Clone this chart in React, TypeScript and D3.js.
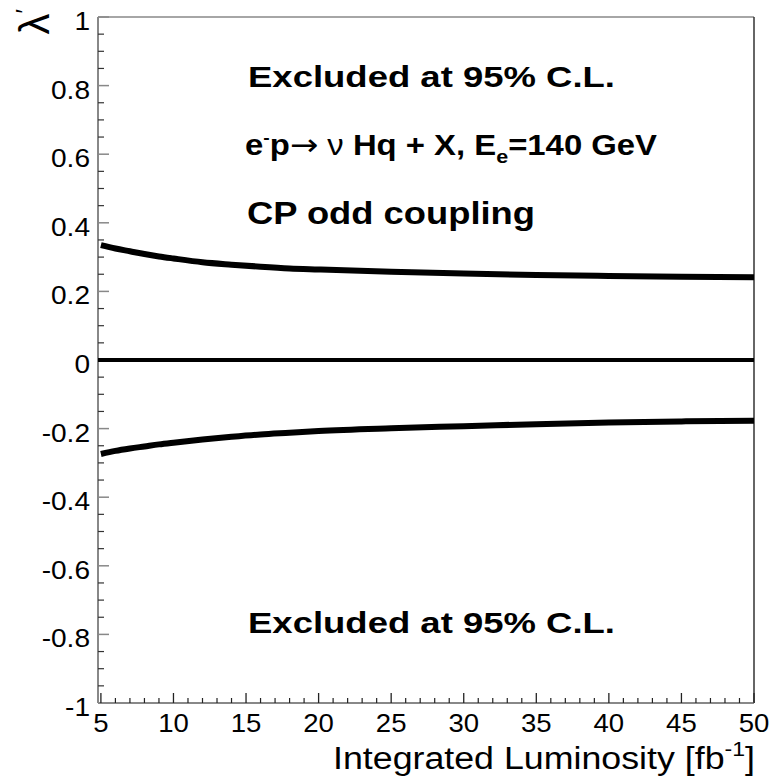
import React from 'react';
import * as d3 from 'd3';

// ---- data ----
const lumi = [5, 6, 7, 8, 9, 10, 12, 14, 16, 18, 20, 25, 30, 35, 40, 45, 50];
const upperLimit = [0.335, 0.325, 0.317, 0.309, 0.302, 0.296, 0.285, 0.278, 0.272, 0.267, 0.264, 0.257, 0.252, 0.248, 0.245, 0.243, 0.241];
const lowerLimit = [-0.274, -0.265, -0.258, -0.252, -0.246, -0.241, -0.232, -0.224, -0.217, -0.212, -0.207, -0.199, -0.193, -0.187, -0.182, -0.179, -0.177];
const zeroLumi = [4.8, 50];
const zeroVals = [0, 0];
const xTicks = [5, 10, 15, 20, 25, 30, 35, 40, 45, 50];
const xTickLabels = ['5', '10', '15', '20', '25', '30', '35', '40', '45', '50'];
const yTicks = [1, 0.8, 0.6, 0.4, 0.2, 0, -0.2, -0.4, -0.6, -0.8, -1];
const yTickLabels = ['1', '0.8', '0.6', '0.4', '0.2', '0', '-0.2', '-0.4', '-0.6', '-0.8', '-1'];
const xDomain = [4.8, 50];
const yDomain = [-1, 1];

const W = 774;
const H = 778;
const FONT = '"Liberation Sans", Arial, Helvetica, sans-serif';

export default function App() {
  const x = d3.scaleLinear().domain(xDomain).range([98, 754]);
  const y = d3.scaleLinear().domain(yDomain).range([703, 17]);

  const line = d3
    .line<[number, number]>()
    .x((d) => x(d[0]))
    .y((d) => y(d[1]))
    .curve(d3.curveMonotoneX);

  const upPts = lumi.map((l, i) => [l, upperLimit[i]] as [number, number]);
  const loPts = lumi.map((l, i) => [l, lowerLimit[i]] as [number, number]);
  const zPts = zeroLumi.map((l, i) => [l, zeroVals[i]] as [number, number]);

  const xMinor = d3.range(5, 50.001, 1).filter((v) => !xTicks.includes(v));
  const yMinor = d3.range(-1, 1.0001, 0.05).map((v) => +v.toFixed(2)).filter((v) => !yTicks.some((t) => Math.abs(t - v) < 1e-6));

  const [x0, x1] = x.range();
  const [y0, y1] = y.range();

  return (
    <svg width={W} height={H} style={{ position: 'absolute', left: 0, top: 0, background: '#fff' }} fontFamily={FONT}>
      <rect x={0} y={0} width={W} height={H} fill="#fff" />

      {/* frame */}
      <line x1={x0} y1={y1} x2={x1} y2={y1} stroke="#888" strokeWidth={1.5} />
      <line x1={x1} y1={y1} x2={x1} y2={y0} stroke="#333" strokeWidth={1.5} />
      <line x1={x0} y1={y1} x2={x0} y2={y0} stroke="#888" strokeWidth={2} />
      <line x1={x0} y1={y0} x2={x1} y2={y0} stroke="#888" strokeWidth={2} />

      {/* y ticks */}
      {yTicks.map((t) => (
        <line key={'ym' + t} x1={x0} x2={x0 + 11} y1={y(t)} y2={y(t)} stroke="#888" strokeWidth={1.5} />
      ))}
      {yMinor.map((t) => (
        <line key={'yn' + t} x1={x0} x2={x0 + 6} y1={y(t)} y2={y(t)} stroke="#333" strokeWidth={1.2} />
      ))}
      {yTicks.map((t, i) => (
        <g key={'yl' + t} transform={`translate(90,${y(t) + 13}) scale(1.08,1)`}>
          <text textAnchor="end" fontSize={26} fill="#000">
            {yTickLabels[i]}
          </text>
        </g>
      ))}

      {/* x ticks */}
      {xTicks.map((t) => (
        <line key={'xm' + t} x1={x(t)} x2={x(t)} y1={y0} y2={y0 - 10} stroke="#222" strokeWidth={1.3} />
      ))}
      {xMinor.map((t) => (
        <line key={'xn' + t} x1={x(t)} x2={x(t)} y1={y0} y2={y0 - 5} stroke="#222" strokeWidth={1.2} />
      ))}
      {xTicks.map((t, i) => (
        <g key={'xl' + t} transform={`translate(${x(t)},732) scale(1.06,1)`}>
          <text textAnchor="middle" fontSize={26} fill="#000">
            {xTickLabels[i]}
          </text>
        </g>
      ))}

      {/* curves */}
      <path d={line(zPts) || ''} fill="none" stroke="#000" strokeWidth={4} />
      <path d={line(upPts) || ''} fill="none" stroke="#000" strokeWidth={6} />
      <path d={line(loPts) || ''} fill="none" stroke="#000" strokeWidth={6} />

      {/* axis titles */}
      <text x={333} y={769} fontSize={31} fill="#000" textLength={422} lengthAdjust="spacingAndGlyphs">
        Integrated Luminosity [fb<tspan dy={-13} fontSize={20}>-1</tspan>
        <tspan dy={13}>]</tspan>
      </text>
      <g transform="translate(49,9) rotate(-90)">
        <text textAnchor="end" fontSize={42} fill="#000">
          λ<tspan dy={-16} fontSize={24}>′</tspan>
        </text>
      </g>

      {/* annotations */}
      <text x={248} y={87} fontSize={30} fontWeight="bold" fill="#000" textLength={367} lengthAdjust="spacingAndGlyphs">
        Excluded at 95% C.L.
      </text>
      <text x={245} y={155} fontSize={29} fontWeight="bold" fill="#000" textLength={412} lengthAdjust="spacingAndGlyphs">
        e<tspan dy={-12} fontSize={17}>-</tspan>
        <tspan dy={12}>p</tspan>
        <tspan fontWeight="normal" fontFamily="DejaVu Sans" fontSize={30}>→</tspan>
        <tspan fontWeight="normal"> ν</tspan> Hq + X, E<tspan dy={8} fontSize={19}>e</tspan>
        <tspan dy={-8}>=140 GeV</tspan>
      </text>
      <text x={247} y={224} fontSize={31} fontWeight="bold" fill="#000" textLength={288} lengthAdjust="spacingAndGlyphs">
        CP odd coupling
      </text>
      <text x={248} y={633} fontSize={30} fontWeight="bold" fill="#000" textLength={367} lengthAdjust="spacingAndGlyphs">
        Excluded at 95% C.L.
      </text>
    </svg>
  );
}
